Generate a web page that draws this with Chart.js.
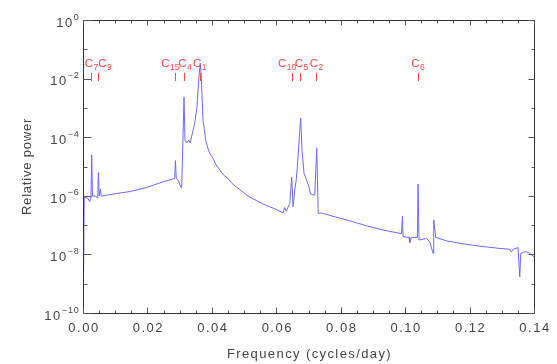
<!DOCTYPE html>
<html>
<head>
<meta charset="utf-8">
<script src="https://cdn.jsdelivr.net/npm/chart.js@4/dist/chart.umd.min.js"></script>
<style>
html,body{margin:0;padding:0;background:#fff;}
canvas{display:block;}
</style>
</head>
<body>
<canvas id="c" width="557" height="364"></canvas>
<script>
// ---- data ----
const freq = [0, 0.00037, 0.00146, 0.00208, 0.00248, 0.00270, 0.00295, 0.00394, 0.00456, 0.00478, 0.00503, 0.00540, 0.00565, 0.00726,
  0.0145, 0.01968, 0.02484, 0.02847, 0.02869, 0.02894, 0.02971, 0.03033, 0.03064, 0.03136, 0.03167, 0.03220, 0.03282, 0.03328, 0.03375,
  0.03468, 0.03539, 0.03592, 0.03639, 0.03670, 0.03695, 0.03726, 0.03763, 0.03809, 0.03856, 0.03912, 0.03965, 0.04036, 0.04120, 0.04244,
  0.04368, 0.04502, 0.04617, 0.04762, 0.04927, 0.05123, 0.05300, 0.05486, 0.05672, 0.05796, 0.05983,
  0.06209, 0.06262, 0.06309, 0.06417, 0.06479, 0.06520, 0.06573, 0.06625, 0.06675, 0.06728, 0.06759, 0.06799, 0.06861, 0.06936, 0.07016,
  0.07060, 0.07193, 0.07256, 0.07302, 0.07401, 0.07762, 0.08280, 0.08799, 0.09314, 0.09624, 0.09885, 0.09916, 0.09935, 0.10121, 0.10143,
  0.10196, 0.10382, 0.10401, 0.10432, 0.10661, 0.10764, 0.10866, 0.10888, 0.10950, 0.11282, 0.11798, 0.12316, 0.12937, 0.13248, 0.13300,
  0.13350, 0.13505, 0.13558, 0.13589, 0.13660, 0.13766, 0.13869, 0.14];
const power = [1e-11, 8.9e-7, 8.3e-7, 6.3e-7, 8.9e-7, 2.5e-5, 9.8e-7, 9.8e-7, 8.3e-7, 6.2e-6, 9.8e-7, 1.7e-6, 9.8e-7, 1.05e-6,
  1.4e-6, 1.9e-6, 3.0e-6, 3.9e-6, 1.6e-5, 4.0e-6, 3.2e-6, 2.0e-6, 1.9e-6, 2.3e-3, 7.9e-5, 6.3e-5, 7.9e-5, 6.3e-5, 1.1e-4,
  3.0e-4, 1.1e-3, 8.9e-3, 3.4e-2, 1.3e-2, 2.7e-3, 3.8e-4, 2.0e-4, 7.9e-5, 5.0e-5, 3.2e-5, 2.45e-5, 1.9e-5, 1.2e-5, 7.6e-6,
  5.1e-6, 3.9e-6, 2.7e-6, 2.0e-6, 1.45e-6, 9.8e-7, 7.7e-7, 6.0e-7, 4.8e-7, 4.2e-7, 3.5e-7,
  2.6e-7, 4.0e-7, 3.0e-7, 5.5e-7, 4.3e-6, 4.2e-7, 1.55e-6, 3.9e-6, 2.1e-5, 1.7e-4, 4.5e-4, 3.6e-5, 5.8e-6, 3.5e-6, 2.0e-6,
  1.15e-6, 1.05e-6, 4.2e-5, 2.5e-7, 2.6e-7, 2.0e-7, 1.4e-7, 9.5e-8, 6.8e-8, 5.8e-8, 5.1e-8, 2.0e-7, 4.0e-8, 3.8e-8, 2.5e-8,
  3.8e-8, 3.8e-8, 2.5e-6, 3.1e-8, 3.5e-8, 2.7e-8, 1.1e-8, 1.5e-7, 3.8e-8, 2.9e-8, 2.3e-8, 1.9e-8, 1.6e-8, 1.5e-8, 1.2e-8,
  1.5e-8, 1.7e-8, 1.7e-9, 1.07e-8, 1.17e-8, 1.26e-8, 1.07e-8, 8.3e-9];
const markerFreq = [0.00261, 0.00466, 0.02869, 0.03136, 0.03623, 0.06489, 0.06750, 0.07246, 0.10400];
const markerSub = ['7', '9', '15', '4', '1', '10', '5', '2', '6'];
const xTickValues = [0, 0.02, 0.04, 0.06, 0.08, 0.10, 0.12, 0.14];
const xTickLabels = ['0.00', '0.02', '0.04', '0.06', '0.08', '0.10', '0.12', '0.14'];
const yTickExps = [0, -2, -4, -6, -8, -10];
const xTitle = 'Frequency (cycles/day)';
const yTitle = 'Relative power';

// ---- styling (not data) ----
const labelShift = [0, 7, -5, 1, 0, -5, 1, 0, 0];
const AXC = '#333';
const TXC = '#444';
const RED = '#ff4444';
const FONT = '"Liberation Sans", Arial, sans-serif';

const decor = {
  id: 'decor',
  afterDraw(chart) {
    const ctx = chart.ctx;
    const a = chart.chartArea;
    const xs = chart.scales.x, ys = chart.scales.y;
    const L = a.left + 0.5, R = a.right + 0.5, T = a.top + 0.5, B = a.bottom + 0.5;
    ctx.save();
    // box
    ctx.strokeStyle = AXC; ctx.lineWidth = 1;
    ctx.beginPath(); ctx.rect(L, T, R - L, B - T); ctx.stroke();
    // x ticks
    ctx.strokeStyle = '#555';
    ctx.beginPath();
    for (let i = 0; i <= 28; i++) {
      const v = i * 0.005;
      const px = Math.round(xs.getPixelForValue(v)) + 0.5;
      const major = i % 4 === 0;
      const lb = major ? 6 : 3, lt = major ? 5 : 3;
      ctx.moveTo(px, B); ctx.lineTo(px, B - lb);
      ctx.moveTo(px, T); ctx.lineTo(px, T + lt);
    }
    // y ticks
    for (let e = 0; e >= -10; e--) {
      const py = Math.round(ys.getPixelForValue(Math.pow(10, e))) + 0.5;
      const major = e % 2 === 0;
      const ll = major ? 8 : 4, lr = major ? 6 : 3;
      ctx.moveTo(L, py); ctx.lineTo(L + ll, py);
      ctx.moveTo(R, py); ctx.lineTo(R - lr, py);
    }
    ctx.stroke();

    // x tick labels
    ctx.fillStyle = TXC;
    ctx.font = '13px ' + FONT;
    ctx.letterSpacing = '1.5px';
    ctx.textAlign = 'center'; ctx.textBaseline = 'alphabetic';
    xTickValues.forEach((v, i) => {
      ctx.fillText(xTickLabels[i], xs.getPixelForValue(v) + 1, 332);
    });
    // y tick labels 10^e
    yTickExps.forEach(e => {
      const py = ys.getPixelForValue(Math.pow(10, e));
      const expTxt = e === 0 ? '0' : '\u2212' + Math.abs(e);
      ctx.font = '9px ' + FONT; ctx.letterSpacing = '0.8px';
      ctx.textAlign = 'right';
      const ew = ctx.measureText(expTxt).width;
      ctx.fillText(expTxt, 79.5, py - 0.5);
      ctx.font = '13px ' + FONT; ctx.letterSpacing = '1.5px';
      ctx.fillText('10', 79.5 - ew, py + 6.8);
    });
    // axis titles
    ctx.font = '13px ' + FONT; ctx.letterSpacing = '1.4px';
    ctx.textAlign = 'center';
    ctx.fillText(xTitle, (a.left + a.right) / 2 + 1, 358);
    ctx.save();
    ctx.translate(31, (a.top + a.bottom) / 2);
    ctx.rotate(-Math.PI / 2);
    ctx.letterSpacing = '0.8px';
    ctx.fillText(yTitle, 0, 0);
    ctx.restore();

    // component markers
    ctx.strokeStyle = RED; ctx.fillStyle = RED;
    ctx.beginPath();
    markerFreq.forEach(f => {
      const px = Math.round(xs.getPixelForValue(f)) + 0.5;
      ctx.moveTo(px, 73); ctx.lineTo(px, 81);
    });
    ctx.stroke();
    markerFreq.forEach((f, i) => {
      const px = xs.getPixelForValue(f) + labelShift[i];
      ctx.letterSpacing = '0px';
      ctx.font = '11.5px ' + FONT;
      const cw = ctx.measureText('C').width;
      ctx.font = '8.5px ' + FONT;
      const sw = ctx.measureText(markerSub[i]).width;
      const x0 = px - (cw + sw + 0.5) / 2;
      ctx.textAlign = 'left';
      ctx.font = '11.5px ' + FONT;
      ctx.fillText('C', x0, 66.7);
      ctx.font = '8.5px ' + FONT;
      ctx.fillText(markerSub[i], x0 + cw + 0.5, 69.7);
    });
    ctx.restore();
  }
};

const points = freq.map((f, i) => ({ x: f, y: power[i] }));

new Chart(document.getElementById('c'), {
  type: 'line',
  data: {
    datasets: [{
      data: points,
      borderColor: 'rgb(105,105,255)',
      borderWidth: 1,
      pointRadius: 0,
      tension: 0,
      fill: false
    }]
  },
  options: {
    responsive: false,
    animation: false,
    devicePixelRatio: 1,
    layout: { padding: { top: 20, right: 23, left: 0, bottom: 0 } },
    plugins: { legend: { display: false }, tooltip: { enabled: false } },
    scales: {
      x: {
        type: 'linear', min: 0, max: 0.14,
        grid: { display: false }, border: { display: false },
        ticks: { display: false },
        afterFit(s) { s.height = 51; }
      },
      y: {
        type: 'logarithmic', min: 1e-10, max: 1,
        grid: { display: false }, border: { display: false },
        ticks: { display: false },
        afterFit(s) { s.width = 83; }
      }
    }
  },
  plugins: [decor]
});
</script>
</body>
</html>
